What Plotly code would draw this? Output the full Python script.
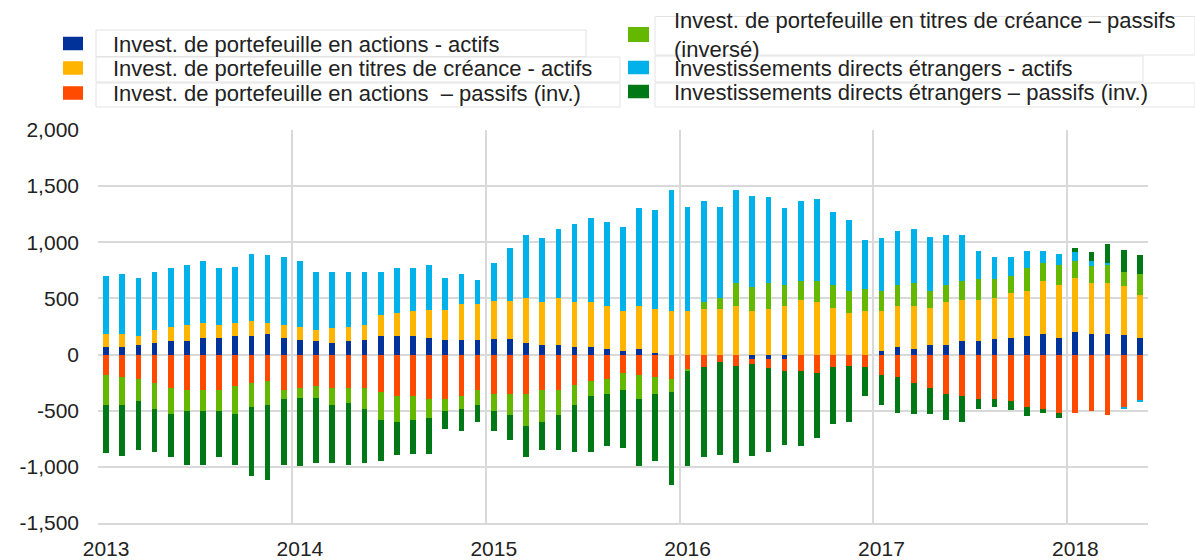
import plotly.graph_objects as go

# ---------------- data ----------------
months = [f"{y}-{m:02d}" for y in range(2013, 2019) for m in range(1, 13)][:65]

equity_assets = [
    66, 66, 84, 102, 120, 120, 150, 150, 165, 165, 183, 150,
    132, 117, 102, 117, 132, 165, 165, 165, 150, 132, 132, 132,
    135, 135, 102, 84, 84, 69, 69, 51, 36, 51, 18, 0,
    0, 0, 0, 0, -36, -36, -36, 0, 0, 0, 0, 0,
    36, 69, 51, 84, 84, 120, 120, 135, 150, 168, 186, 150,
    201, 186, 186, 171, 150]
debt_assets = [
    120, 120, 81, 114, 129, 147, 132, 117, 117, 135, 99, 117,
    117, 99, 132, 132, 135, 186, 201, 219, 249, 267, 318, 318,
    345, 345, 399, 384, 417, 399, 399, 384, 348, 384, 384, 384,
    384, 402, 402, 435, 384, 402, 435, 483, 468, 417, 369, 384,
    348, 366, 384, 333, 384, 363, 363, 366, 402, 399, 465, 468,
    480, 450, 450, 444, 384]
equity_liab = [
    -186, -201, -219, -255, -300, -315, -315, -315, -282, -249, -234, -315,
    -300, -282, -300, -300, -300, -333, -366, -366, -399, -399, -366, -315,
    -351, -351, -351, -315, -315, -267, -234, -216, -168, -183, -201, -216,
    -135, -114, -66, -99, -48, -81, -114, -150, -165, -114, -99, -114,
    -186, -201, -249, -300, -351, -366, -399, -399, -414, -465, -483, -516,
    -516, -501, -534, -465, -405]
debt_liab = [
    -264, -249, -195, -228, -231, -186, -186, -186, -249, -216, -216, -84,
    -84, -102, -150, -132, -183, -249, -234, -216, -168, -102, -117, -135,
    -150, -183, -282, -285, -219, -183, -132, -135, -147, -216, -150, -117,
    -10, 66, 99, 201, 219, 234, 183, 168, 183, 201, 198, 201,
    186, 183, 201, 150, 150, 168, 186, 168, 150, 201, 168, 183,
    150, 150, 165, 120, 186]
fdi_assets = [
    513, 528, 519, 516, 519, 534, 552, 501, 501, 600, 603, 600,
    585, 516, 498, 483, 465, 381, 402, 384, 402, 285, 264, 216,
    336, 471, 567, 567, 618, 699, 750, 750, 750, 867, 882, 1083,
    933, 900, 816, 831, 813, 765, 684, 717, 732, 651, 633, 432,
    465, 483, 483, 483, 450, 417, 249, 198, 165, 150, 99, 99,
    84, 45, 15, -18, -15]
fdi_liab = [
    -429, -450, -435, -381, -384, -480, -480, -414, -450, -615, -666, -582,
    -612, -582, -516, -549, -483, -366, -297, -300, -315, -165, -198, -150,
    -180, -231, -282, -249, -315, -414, -498, -465, -516, -597, -597, -831,
    -846, -801, -831, -867, -816, -750, -651, -666, -582, -501, -501, -252,
    -264, -315, -282, -231, -231, -231, -84, -66, -84, -84, -33, -48,
    36, 84, 165, 198, 165]

series_names = [
    "Invest. de portefeuille en actions - actifs",
    "Invest. de portefeuille en titres de créance - actifs",
    "Invest. de portefeuille en actions \u00a0– passifs (inv.)",
    "Invest. de portefeuille en titres de créance – passifs<br>(inversé)",
    "Investissements directs étrangers - actifs",
    "Investissements directs étrangers – passifs (inv.)",
]
series_colors = ["#003299", "#ffb400", "#ff4b00", "#65b800", "#00b1ea", "#007816"]

y_tick_vals = [2000, 1500, 1000, 500, 0, -500, -1000, -1500]
y_tick_text = ["2,000", "1,500", "1,000", "500", "0", "-500", "-1,000", "-1,500"]

# ---------------- figure ----------------
W, H = 1195, 560
PL, PR, PT, PB = 98, 1148, 130, 523


def px(xp):
    return (xp - PL) / (PR - PL)


def py(yp):
    return (PB - yp) / (PB - PT)


x = list(range(len(months)))
year_pos = [i for i, m in enumerate(months) if m.endswith("-01")]
year_txt = [months[i][:4] for i in year_pos]
boundaries = [i - 0.5 for i in year_pos]

FONT = "Liberation Sans, Arial, sans-serif"
TXT = "#222222"

all_series = [equity_assets, debt_assets, equity_liab, debt_liab, fdi_assets, fdi_liab]
legend_ids = ["legend", "legend2", "legend3", "legend4", "legend5", "legend6"]

fig = go.Figure()
for vals, name, col, lg in zip(all_series, series_names, series_colors, legend_ids):
    fig.add_trace(go.Bar(x=x, y=vals, name=name, marker=dict(color=col, line=dict(width=0)),
                         width=0.35, legend=lg, showlegend=True))

# legend placements (left column / right column): (x_left_px, y_center_px, itemwidth)
leg_specs = {
    "legend": (33, 43.5, 70),
    "legend2": (33, 68, 70),
    "legend3": (33, 93, 70),
    "legend4": (604, 34.5, 60),
    "legend5": (604, 67.5, 60),
    "legend6": (604, 92, 60),
}
layout_legends = {}
for k, (lx, ly, iw) in leg_specs.items():
    layout_legends[k] = dict(x=px(lx), y=py(ly), xanchor="left", yanchor="middle",
                             itemwidth=iw, bgcolor="rgba(0,0,0,0)", borderwidth=0,
                             font=dict(family=FONT, size=22, color=TXT),
                             traceorder="normal", orientation="v",
                             itemclick=False, itemdoubleclick=False)

shapes = []
# light gray frames around legend labels
frames = [
    (96, 30, 586, 56.5), (96, 57, 620, 82), (96, 83, 620, 107),
    (655, 16.5, 1195, 55), (655, 56, 1143, 82), (655, 83, 1195, 107),
]
for x0, y0, x1, y1 in frames:
    shapes.append(dict(type="rect", xref="paper", yref="paper",
                       x0=px(x0), x1=px(x1), y0=py(y1), y1=py(y0),
                       line=dict(color="#e3e3e3", width=1), layer="below"))
# wider legend swatches (the native 12px symbol sits on top of these)
swatches = [
    (63, 83, 43.5, 6.75), (63, 83, 68, 6.75), (63, 83, 93, 6.75),
    (628, 649, 34.5, 7.5), (628, 649, 67.5, 6.75), (628, 649, 91.5, 6.75),
]
for (x0, x1, yc, hh), col in zip(swatches, series_colors):
    shapes.append(dict(type="rect", xref="paper", yref="paper",
                       x0=px(x0), x1=px(x1), y0=py(yc + hh), y1=py(yc - hh),
                       fillcolor=col, line=dict(width=0), layer="above"))

fig.update_layout(
    width=W, height=H, showlegend=True,
    margin=dict(l=PL, r=W - PR, t=PT, b=H - PB, pad=0, autoexpand=False),
    paper_bgcolor="white", plot_bgcolor="white",
    barmode="relative", bargap=0,
    font=dict(family=FONT, size=21, color=TXT),
    shapes=shapes,
    **layout_legends,
)
fig.update_xaxes(
    range=[-0.5, len(months) - 0.5],
    tickmode="array", tickvals=year_pos, ticktext=year_txt,
    showgrid=False, zeroline=False,
    showline=True, linecolor="#d9d9d9", linewidth=2,
    ticks="", ticklabelstandoff=6,
    tickfont=dict(family=FONT, size=21, color=TXT),
    minor=dict(tickmode="array", tickvals=boundaries, showgrid=True,
               gridcolor="#d9d9d9", gridwidth=2, ticks=""),
    fixedrange=True,
)
fig.update_yaxes(
    range=[-1500, 2000],
    tickmode="array", tickvals=y_tick_vals, ticktext=y_tick_text,
    showgrid=True, gridcolor="#d9d9d9", gridwidth=2,
    zeroline=False, showline=False,
    ticks="", ticklabelstandoff=18,
    tickfont=dict(family=FONT, size=21, color=TXT),
    fixedrange=True,
)

fig.write_html("out.html", config={"displayModeBar": False},
               post_script="document.body.style.margin='0';document.body.style.overflow='hidden';")
